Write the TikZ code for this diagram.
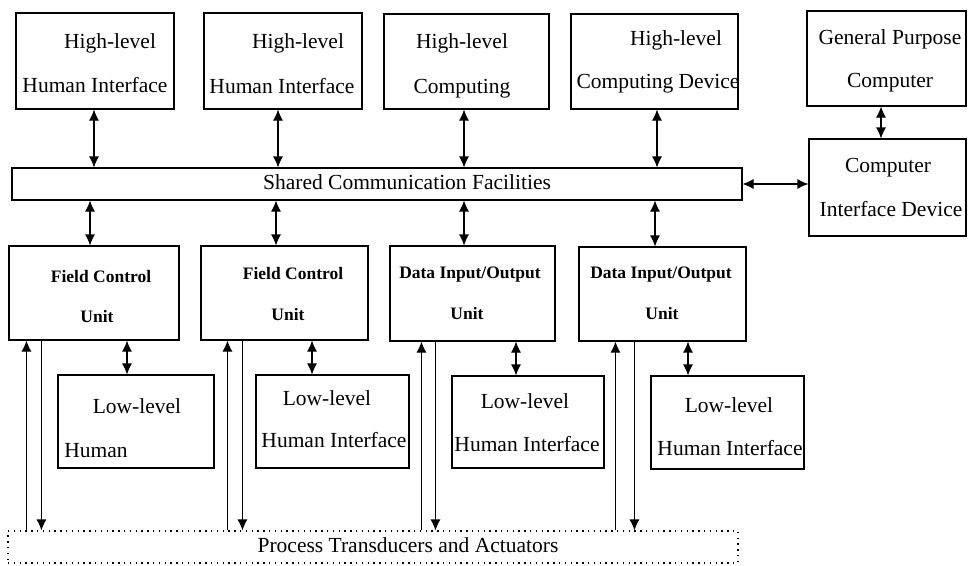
\documentclass[tikz,border=0pt]{standalone}
\usepackage{fontspec}
\setmainfont{Liberation Serif}
\usetikzlibrary{arrows.meta}

\begin{document}
\begin{tikzpicture}[x=1pt, y=-1pt, >={Latex[length=11pt,width=10pt]},
  box/.style={draw, line width=1.1pt, inner sep=0pt},
  txt/.style={inner sep=0pt, font=\fontsize{21.5}{24}\selectfont, text height=15pt, text depth=4.5pt},
  btxt/.style={inner sep=0pt, font=\fontsize{17.5}{20}\selectfont\bfseries, text height=12pt, text depth=3.5pt},
  link/.style={<->, line width=1.1pt},
  wire/.style={->, line width=1.1pt}]

  \useasboundingbox (0,0) rectangle (968,565);

  % High-level row
  \node[box, minimum width=158pt, minimum height=96pt] (hlA) at (95,61) {};
  \node[box, minimum width=158pt, minimum height=96pt] (hlB) at (283,61) {};
  \node[box, minimum width=165pt, minimum height=95pt] (hlC) at (466.5,61.5) {};
  \node[box, minimum width=167pt, minimum height=95pt] (hlD) at (654.5,61.5) {};
  \node[box, minimum width=159pt, minimum height=95pt] (gpc) at (886.5,58.5) {};
  \node[box, minimum width=157pt, minimum height=97pt] (cid) at (887.5,187.5) {};

  \node[txt] (hlAa) at (110,43) {High-level};
  \node[txt] (hlAb) at (95,87) {Human Interface};
  \node[txt] (hlBa) at (298,43) {High-level};
  \node[txt] (hlBb) at (282,88) {Human Interface};
  \node[txt] (hlCa) at (462,43) {High-level};
  \node[txt] (hlCb) at (462,88) {Computing};
  \node[txt] (hlDa) at (676,40) {High-level};
  \node[txt] (hlDb) at (658,83) {Computing Device};
  \node[txt] (gpca) at (890,39) {General Purpose};
  \node[txt] (gpcb) at (890,82) {Computer};
  \node[txt] (cida) at (888,167) {Computer};
  \node[txt] (cidb) at (891,211) {Interface Device};

  % Shared bus
  \node[box, minimum width=730pt, minimum height=32pt] (bus) at (377,184) {};
  \node[txt] (busa) at (407,184) {Shared Communication Facilities};

  % Field units
  \node[box, minimum width=170pt, minimum height=94pt] (fcuA) at (94,293) {};
  \node[box, minimum width=167pt, minimum height=94pt] (fcuB) at (284.5,293) {};
  \node[box, minimum width=165pt, minimum height=95pt] (dioA) at (472.5,293.5) {};
  \node[box, minimum width=167pt, minimum height=94pt] (dioB) at (662.5,294) {};

  \node[btxt] (fcuAa) at (101,278) {Field Control};
  \node[btxt] (fcuAb) at (97,318) {Unit};
  \node[btxt] (fcuBa) at (293,275) {Field Control};
  \node[btxt] (fcuBb) at (288,316) {Unit};
  \node[btxt] (dioAa) at (470,274) {Data Input/Output};
  \node[btxt] (dioAb) at (467,315) {Unit};
  \node[btxt] (dioBa) at (661,274) {Data Input/Output};
  \node[btxt] (dioBb) at (662,315) {Unit};

  % Low-level row
  \node[box, minimum width=156pt, minimum height=93pt] (llA) at (136,421.5) {};
  \node[box, minimum width=153pt, minimum height=93pt] (llB) at (332.5,421.5) {};
  \node[box, minimum width=152pt, minimum height=92pt] (llC) at (528,422) {};
  \node[box, minimum width=153pt, minimum height=93pt] (llD) at (727.5,422.5) {};

  \node[txt] (llAa) at (137,408) {Low-level};
  \node[txt] (llAb) at (96,452) {Human};
  \node[txt] (llBa) at (327,400) {Low-level};
  \node[txt] (llBb) at (334,442) {Human Interface};
  \node[txt] (llCa) at (525,403) {Low-level};
  \node[txt] (llCb) at (527,446) {Human Interface};
  \node[txt] (llDa) at (729,407) {Low-level};
  \node[txt] (llDb) at (730,450) {Human Interface};

  % Process side
  \node[box, dash pattern=on 1.4pt off 4.4pt, minimum width=730pt, minimum height=32pt] (pta) at (373,547) {};
  \node[txt] (ptaa) at (408,547) {Process Transducers and Actuators};

  % Links to the bus
  \draw[link] ([xshift=-1pt]hlA.south) -- ([xshift=-1pt]hlA.south |- bus.north);
  \draw[link] ([xshift=-5pt]hlB.south) -- ([xshift=-5pt]hlB.south |- bus.north);
  \draw[link] ([xshift=-2.5pt]hlC.south) -- ([xshift=-2.5pt]hlC.south |- bus.north);
  \draw[link] ([xshift=2.5pt]hlD.south) -- ([xshift=2.5pt]hlD.south |- bus.north);
  \draw[link] ([xshift=-4pt]fcuA.north) -- ([xshift=-4pt]fcuA.north |- bus.south);
  \draw[link] ([xshift=-8.5pt]fcuB.north) -- ([xshift=-8.5pt]fcuB.north |- bus.south);
  \draw[link] ([xshift=-8.5pt]dioA.north) -- ([xshift=-8.5pt]dioA.north |- bus.south);
  \draw[link] ([xshift=-7.5pt]dioB.north) -- ([xshift=-7.5pt]dioB.north |- bus.south);
  \draw[link] (bus.east) -- (bus.east -| cid.west);
  \draw[link] ([xshift=-5.5pt]gpc.south) -- ([xshift=-5.5pt]gpc.south |- cid.north);

  % Units to low-level interfaces
  \draw[link] ([xshift=-9pt]llA.north) -- ([xshift=-9pt]llA.north |- fcuA.south);
  \draw[link] ([xshift=-20.5pt]llB.north) -- ([xshift=-20.5pt]llB.north |- fcuB.south);
  \draw[link] ([xshift=-12pt]llC.north) -- ([xshift=-12pt]llC.north |- dioA.south);
  \draw[link] ([xshift=-39.5pt]llD.north) -- ([xshift=-39.5pt]llD.north |- dioB.south);

  % Units to transducers
  \foreach \n/\u/\d in {fcuA/18/33, fcuB/27/42, dioA/32/46, dioB/37/56} {
    \draw[wire] ([xshift=\u pt]\n.south west |- pta.north) -- ([xshift=\u pt]\n.south west);
    \draw[wire] ([xshift=\d pt]\n.south west) -- ([xshift=\d pt]\n.south west |- pta.north);
  }

\end{tikzpicture}
\end{document}
